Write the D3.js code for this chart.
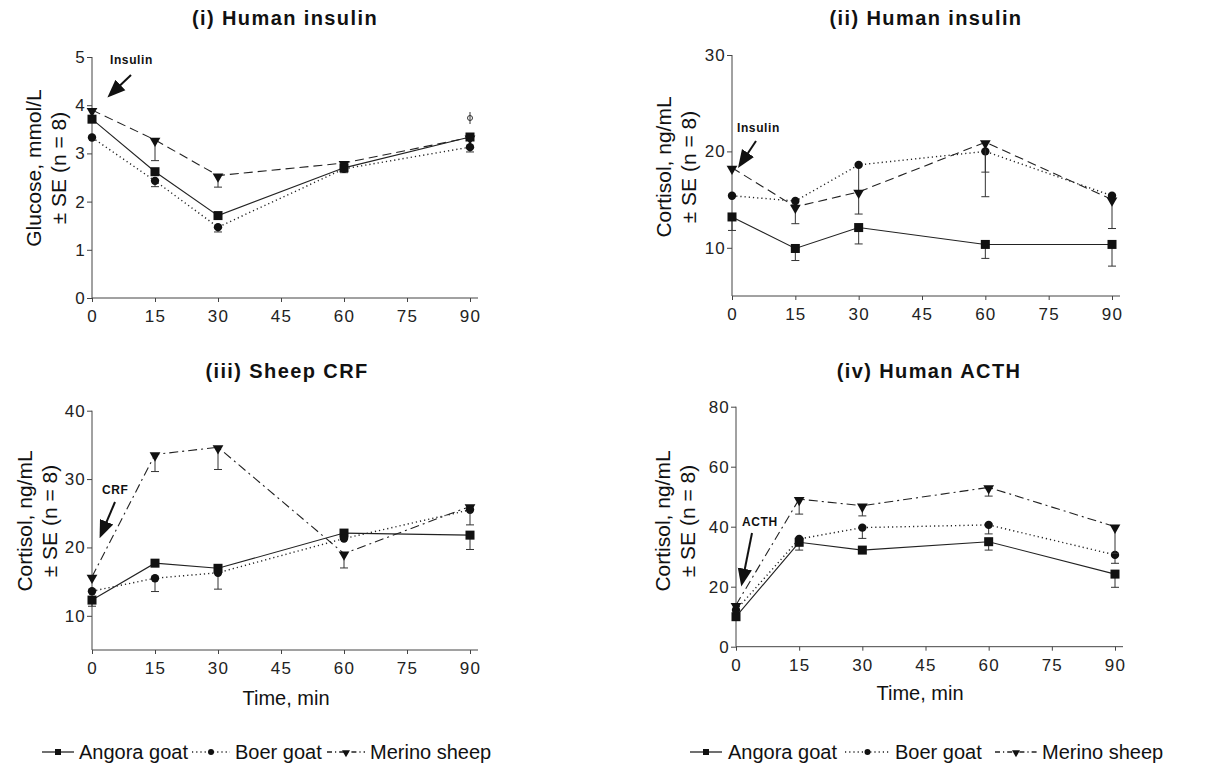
<!DOCTYPE html>
<html>
<head>
<meta charset="utf-8">
<script src="https://cdn.jsdelivr.net/npm/d3@7"></script>
<style>
  body { margin: 0; background: #fff; }
  svg { font-family: "Liberation Sans", Arial, sans-serif; }
  .tick text { font-size: 17px; letter-spacing: 1.2px; fill: #222; }
  .domain, .tick line { stroke: #444; stroke-width: 1; }
</style>
</head>
<body>
<svg id="chart" width="1224" height="765"></svg>
<script>
// sampling times (min)
var times = [0, 15, 30, 60, 90];
var xTicks = [0, 15, 30, 45, 60, 75, 90];
var seriesNames = ["Angora goat", "Boer goat", "Merino sheep"];

// (i) glucose after human insulin
var glucAngora = [3.71, 2.62, 1.71, 2.70, 3.34];
var glucBoer   = [3.33, 2.43, 1.47, 2.68, 3.13];
var glucMerino = [3.90, 3.28, 2.54, 2.80, 3.33];
var glucAngoraSE = [0, 0, -0.08, 0, 0];
var glucBoerSE   = [0, -0.12, -0.10, -0.08, -0.10];
var glucMerinoSE = [0, -0.43, -0.24, 0, 0];

// (ii) cortisol after human insulin
var insAngora = [13.2, 9.93, 12.1, 10.35, 10.35];
var insBoer   = [15.4, 14.85, 18.6, 20.0, 15.4];
var insMerino = [18.3, 14.25, 15.8, 20.95, 15.0];
var insAngoraSE = [-1.4, -1.25, -1.7, -1.45, -2.25];
var insBoerSE   = [0, -2.35, -5.1, -4.7, -3.4];
var insMerinoSE = [0, 0, 0, -3.1, 0];

// (iii) cortisol after sheep CRF
var crfAngora = [12.3, 17.7, 16.95, 22.1, 21.8];
var crfBoer   = [13.6, 15.5, 16.3, 21.3, 25.5];
var crfMerino = [15.7, 33.6, 34.65, 19.1, 26.0];
var crfAngoraSE = [-0.9, 0, 0, 0, -2.1];
var crfBoerSE   = [0, -1.95, -2.4, 0, 0];
var crfMerinoSE = [0, -2.5, -3.25, -2.1, -2.7];

// (iv) cortisol after human ACTH
var acthAngora = [10.0, 34.8, 32.2, 35.0, 24.2];
var acthBoer   = [12.2, 35.9, 39.7, 40.6, 30.6];
var acthMerino = [13.9, 49.2, 47.0, 53.1, 40.0];
var acthAngoraSE = [0, -2.6, 0, -2.8, -4.4];
var acthBoerSE   = [0, 0, -3.6, -3.0, -2.8];
var acthMerinoSE = [0, -5.0, -3.4, -2.9, -8.9];

var svg = d3.select("#chart");

var panels = [
  { title: "(i) Human insulin", tx: 285, ty: 18, left: 92, right: 470, top: 57, bottom: 298,
    yDomain: [0, 5], yTicks: [0, 1, 2, 3, 4, 5], ylab: ["Glucose, mmol/L", "\u00b1 SE (n = 8)"],
    labX: 33, labY: 168, merinoDash: "9,5",
    vals: [glucAngora, glucBoer, glucMerino], errs: [glucAngoraSE, glucBoerSE, glucMerinoSE],
    note: "Insulin", nx: 110, ny: 60, arrow: [131, 75, 110, 95] },
  { title: "(ii) Human insulin", tx: 926, ty: 18, left: 732, right: 1112, top: 55, bottom: 296,
    yDomain: [5, 30], yTicks: [10, 20, 30], ylab: ["Cortisol, ng/mL", "\u00b1 SE (n = 8)"],
    labX: 663, labY: 167, merinoDash: "9,5",
    vals: [insAngora, insBoer, insMerino], errs: [insAngoraSE, insBoerSE, insMerinoSE],
    note: "Insulin", nx: 737, ny: 128, arrow: [756, 141, 740, 165] },
  { title: "(iii) Sheep CRF", tx: 287, ty: 371, left: 92, right: 470, top: 410.7, bottom: 650,
    yDomain: [5, 40], yTicks: [10, 20, 30, 40], ylab: ["Cortisol, ng/mL", "\u00b1 SE (n = 8)"],
    labX: 24, labY: 521, merinoDash: "9,4,2,4", xlab: "Time, min", xlx: 286, xly: 698,
    vals: [crfAngora, crfBoer, crfMerino], errs: [crfAngoraSE, crfBoerSE, crfMerinoSE],
    note: "CRF", nx: 102, ny: 490, arrow: [115, 502, 101, 535] },
  { title: "(iv) Human ACTH", tx: 929, ty: 371, left: 736, right: 1115, top: 406.7, bottom: 646.7,
    yDomain: [0, 80], yTicks: [0, 20, 40, 60, 80], ylab: ["Cortisol, ng/mL", "\u00b1 SE (n = 8)"],
    labX: 662, labY: 521, merinoDash: "9,4,2,4", xlab: "Time, min", xlx: 920, xly: 693,
    vals: [acthAngora, acthBoer, acthMerino], errs: [acthAngoraSE, acthBoerSE, acthMerinoSE],
    note: "ACTH", nx: 742, ny: 522, arrow: [752, 533, 742, 583] }
];

svg.append("defs").append("marker")
  .attr("id", "arr").attr("viewBox", "0 0 10 10").attr("refX", 8).attr("refY", 5)
  .attr("markerWidth", 9).attr("markerHeight", 9).attr("orient", "auto")
  .append("path").attr("d", "M0,1 L10,5 L0,9 Z").attr("fill", "#111");

function drawMarker(g, kind, x, y) {
  if (kind == 0) {
    g.append("rect").attr("x", x - 4.5).attr("y", y - 4.5).attr("width", 9).attr("height", 9).attr("fill", "#111");
  } else if (kind == 1) {
    g.append("circle").attr("cx", x).attr("cy", y).attr("r", 4.2).attr("fill", "#111");
  } else {
    g.append("path").attr("d", d3.symbol().type(d3.symbolTriangle).size(50)())
      .attr("transform", "translate(" + x + "," + (y + 1) + ") rotate(180)").attr("fill", "#111");
  }
}

panels.forEach(function(p) {
  var x = d3.scaleLinear().domain([0, 90]).range([p.left, p.right]);
  var y = d3.scaleLinear().domain(p.yDomain).range([p.bottom, p.top]);
  var g = svg.append("g");

  g.append("text").attr("x", p.tx).attr("y", p.ty).attr("text-anchor", "middle")
    .attr("dominant-baseline", "central").style("font-size", "20px").style("font-weight", "bold")
    .style("letter-spacing", "1.4px").attr("fill", "#111").text(p.title);

  var ya = g.append("g").attr("transform", "translate(" + p.left + ",0)")
    .call(d3.axisLeft(y).tickValues(p.yTicks).tickSize(5).tickPadding(1).tickFormat(d3.format("d")));
  ya.select(".domain").attr("d", "M0," + p.bottom + "V" + p.top);

  var xa = g.append("g").attr("transform", "translate(0," + p.bottom + ")")
    .call(d3.axisBottom(x).tickValues(xTicks).tickSize(4).tickPadding(5));
  xa.select(".domain").attr("d", "M" + p.left + ",0H" + (p.right + 8));
  xa.selectAll(".tick text").attr("dy", "0.9em");

  p.ylab.forEach(function(t, i) {
    g.append("text").attr("transform", "translate(" + (p.labX + i * 25) + "," + p.labY + ") rotate(-90)")
      .attr("text-anchor", "middle").attr("dominant-baseline", "central")
      .style("font-size", "21px").attr("fill", "#111").text(t);
  });

  if (p.xlab) {
    g.append("text").attr("x", p.xlx).attr("y", p.xly).attr("text-anchor", "middle")
      .attr("dominant-baseline", "central").style("font-size", "20px").attr("fill", "#111").text(p.xlab);
  }

  var dashes = [null, "1.2,3", p.merinoDash];
  p.vals.forEach(function(vals, s) {
    var pts = times.map(function(t, i) { return [t, vals[i], p.errs[s][i]]; });
    var line = d3.line().x(function(d) { return x(d[0]); }).y(function(d) { return y(d[1]); });
    g.append("path").datum(pts).attr("d", line).attr("fill", "none")
      .attr("stroke", "#222").attr("stroke-width", s == 1 ? 1.4 : 1.1)
      .attr("stroke-dasharray", dashes[s]);
    pts.forEach(function(d) {
      if (d[2]) {
        var cx = x(d[0]), y1 = y(d[1]), y2 = y(d[1] + d[2]);
        g.append("line").attr("x1", cx).attr("x2", cx).attr("y1", y1).attr("y2", y2).attr("stroke", "#333");
        g.append("line").attr("x1", cx - 4).attr("x2", cx + 4).attr("y1", y2).attr("y2", y2).attr("stroke", "#333");
      }
      drawMarker(g, s, x(d[0]), y(d[1]));
    });
  });

  g.append("text").attr("x", p.nx).attr("y", p.ny).attr("dominant-baseline", "central")
    .style("font-size", "12px").style("font-weight", "bold").style("letter-spacing", "0.6px")
    .attr("fill", "#111").text(p.note);
  g.append("line").attr("x1", p.arrow[0]).attr("y1", p.arrow[1]).attr("x2", p.arrow[2]).attr("y2", p.arrow[3])
    .attr("stroke", "#111").attr("stroke-width", 2).attr("marker-end", "url(#arr)");
});

// small mark above Merino at 90 min in panel (i)
svg.append("line").attr("x1", 470).attr("x2", 470).attr("y1", 112).attr("y2", 124).attr("stroke", "#333");
svg.append("circle").attr("cx", 470).attr("cy", 118).attr("r", 2.5).attr("fill", "none").attr("stroke", "#333");

// legends
var legends = [
  { items: [[42, 74, 79], [192, 230, 235], [327, 365, 370]] },
  { items: [[690, 722, 728], [845, 890, 895], [995, 1037, 1042]] }
];
var legendDash = [null, "1.2,3", "5,3,1.2,3"];
legends.forEach(function(l) {
  l.items.forEach(function(it, s) {
    var ly = 752;
    svg.append("line").attr("x1", it[0]).attr("x2", it[1]).attr("y1", ly).attr("y2", ly)
      .attr("stroke", "#222").attr("stroke-width", 1.3).attr("stroke-dasharray", legendDash[s]);
    var m = svg.append("g");
    if (s == 0) m.append("rect").attr("x", (it[0] + it[1]) / 2 - 3).attr("y", ly - 3).attr("width", 6).attr("height", 6).attr("fill", "#111");
    else if (s == 1) m.append("circle").attr("cx", (it[0] + it[1]) / 2).attr("cy", ly).attr("r", 3).attr("fill", "#111");
    else m.append("path").attr("d", d3.symbol().type(d3.symbolTriangle).size(28)())
      .attr("transform", "translate(" + ((it[0] + it[1]) / 2) + "," + (ly + 0.5) + ") rotate(180)").attr("fill", "#111");
    svg.append("text").attr("x", it[2]).attr("y", ly).attr("dominant-baseline", "central")
      .style("font-size", "20px").attr("fill", "#111").text(seriesNames[s]);
  });
});
</script>
</body>
</html>
